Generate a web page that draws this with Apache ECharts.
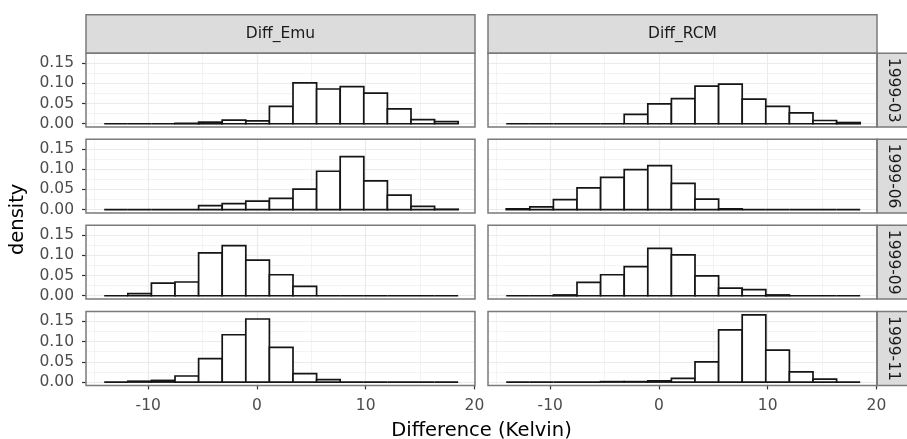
<!DOCTYPE html>
<html>
<head>
<meta charset="utf-8">
<script src="https://cdn.jsdelivr.net/npm/echarts@6/dist/echarts.min.js"></script>
<style>html,body{margin:0;padding:0;background:#fff}#c{width:907px;height:439px}</style>
</head>
<body>
<div id="c"></div>
<script>
// ---- data ----
var columns = ['Diff_Emu', 'Diff_RCM'];
var rows = ['1999-03', '1999-06', '1999-09', '1999-11'];
var binWidth = 2.17;
var binCenters = [-12.96, -10.79, -8.62, -6.45, -4.28, -2.11, 0.06, 2.23, 4.40, 6.57, 8.74, 10.91, 13.08, 15.25, 17.42];
var xTicks = [-10, 0, 10, 20];
var yTicks = [0, 0.05, 0.10, 0.15];
var emu03 = [0, 0, 0, 0.001, 0.004, 0.009, 0.007, 0.043, 0.101, 0.086, 0.092, 0.076, 0.037, 0.010, 0.005];
var emu06 = [0, 0, 0, 0, 0.010, 0.015, 0.021, 0.028, 0.051, 0.095, 0.131, 0.071, 0.036, 0.008, 0.001];
var emu09 = [0, 0.005, 0.031, 0.034, 0.106, 0.124, 0.088, 0.052, 0.023, 0, 0, 0, 0, 0, 0];
var emu11 = [0, 0.002, 0.004, 0.015, 0.058, 0.117, 0.156, 0.086, 0.021, 0.006, 0, 0, 0, 0, 0];
var rcm03 = [0, 0, 0, 0, 0, 0.023, 0.049, 0.062, 0.093, 0.098, 0.061, 0.043, 0.027, 0.008, 0.003];
var rcm06 = [0.002, 0.007, 0.025, 0.054, 0.080, 0.099, 0.109, 0.065, 0.026, 0.002, 0, 0, 0, 0, 0];
var rcm09 = [0, 0, 0.002, 0.033, 0.052, 0.072, 0.117, 0.101, 0.049, 0.019, 0.015, 0.002, 0, 0, 0];
var rcm11 = [0, 0, 0, 0, 0.001, 0.001, 0.003, 0.009, 0.050, 0.129, 0.166, 0.079, 0.025, 0.007, 0];
var panelData = [[emu03, rcm03], [emu06, rcm06], [emu09, rcm09], [emu11, rcm11]];

// ---- layout ----
var FONT = 'DejaVu Sans';
var colLeft = [86, 488];
var panelW = 389;
var rowTop = [53.3, 139.2, 225.3, 311.6];
var panelH = 73.8;
var xMin = -15.72, xMax = 20.05;
var yMin = -0.0083, yMax = 0.1743;

var grids = [], xAxes = [], yAxes = [], series = [], graphics = [];
for (var r = 0; r < rows.length; r++) {
  for (var c = 0; c < columns.length; c++) {
    var idx = grids.length;
    var bottomRow = r === rows.length - 1;
    var leftCol = c === 0;
    grids.push({left: colLeft[c], top: rowTop[r], width: panelW, height: panelH, show: false});
    xAxes.push({
      gridIndex: idx, type: 'value', min: xMin, max: xMax, position: 'bottom',
      minInterval: 10, maxInterval: 10, splitNumber: 4,
      axisLine: {show: false, onZero: false},
      axisTick: {show: bottomRow, length: 4, inside: false, customValues: xTicks, lineStyle: {color: '#333', width: 1.2}},
      axisLabel: {show: bottomRow, customValues: xTicks, color: '#4d4d4d', fontSize: 15.5, fontFamily: FONT, margin: 13,
        formatter: function (v) { return String(Math.round(v)); }},
      splitLine: {show: true, lineStyle: {color: '#ebebeb', width: 1.1}},
      minorTick: {show: false, splitNumber: 2},
      minorSplitLine: {show: true, lineStyle: {color: '#ebebeb', width: 0.6}}
    });
    yAxes.push({
      gridIndex: idx, type: 'value', min: yMin, max: yMax, position: 'left',
      minInterval: 0.05, maxInterval: 0.05, splitNumber: 3,
      axisLine: {show: false, onZero: false},
      axisTick: {show: leftCol, length: 4, inside: false, customValues: yTicks, lineStyle: {color: '#333', width: 1.2}},
      axisLabel: {show: leftCol, customValues: yTicks, color: '#4d4d4d', fontSize: 15.5, fontFamily: FONT, margin: 12,
        formatter: function (v) { return v.toFixed(2); }},
      splitLine: {show: true, lineStyle: {color: '#ebebeb', width: 1.1}},
      minorTick: {show: false, splitNumber: 2},
      minorSplitLine: {show: true, lineStyle: {color: '#ebebeb', width: 0.6}}
    });
    var vals = panelData[r][c];
    var d = [];
    for (var k = 0; k < binCenters.length; k++) d.push([binCenters[k], vals[k]]);
    series.push({
      type: 'custom', xAxisIndex: idx, yAxisIndex: idx, data: d, z: 3, silent: true,
      renderItem: function (params, api) {
        var x = api.value(0), h = api.value(1);
        var p0 = api.coord([x - binWidth / 2, 0]);
        var p1 = api.coord([x + binWidth / 2, h]);
        return {
          type: 'rect',
          shape: {x: p0[0], y: p1[1], width: p1[0] - p0[0], height: p0[1] - p1[1]},
          style: {fill: '#ffffff', stroke: '#151515', lineWidth: 1.7}
        };
      }
    });
    // panel border
    graphics.push({type: 'rect', z: 100, silent: true,
      shape: {x: colLeft[c], y: rowTop[r], width: panelW, height: panelH},
      style: {fill: 'none', stroke: '#7a7a7a', lineWidth: 1.5}});
  }
  // right strip
  graphics.push({type: 'rect', z: 90, silent: true,
    shape: {x: colLeft[1] + panelW, y: rowTop[r], width: 36, height: panelH},
    style: {fill: '#dcdcdc', stroke: '#7a7a7a', lineWidth: 1.5}});
  graphics.push({type: 'text', z: 95, silent: true,
    x: colLeft[1] + panelW + 16.5, y: rowTop[r] + panelH / 2, rotation: -Math.PI / 2,
    style: {text: rows[r], fontSize: 15.5, fontFamily: FONT, fill: '#1a1a1a', align: 'center', verticalAlign: 'middle'}});
}
// top strips
for (var c2 = 0; c2 < columns.length; c2++) {
  graphics.push({type: 'rect', z: 90, silent: true,
    shape: {x: colLeft[c2], y: 14.7, width: panelW, height: rowTop[0] - 14.7},
    style: {fill: '#dcdcdc', stroke: '#7a7a7a', lineWidth: 1.5}});
  graphics.push({type: 'text', z: 95, silent: true,
    x: colLeft[c2] + panelW / 2, y: 33.5,
    style: {text: columns[c2], fontSize: 15.5, fontFamily: FONT, fill: '#1a1a1a', align: 'center', verticalAlign: 'middle'}});
}
// axis titles
graphics.push({type: 'text', z: 95, silent: true, x: 17.5, y: (rowTop[0] + rowTop[3] + panelH) / 2, rotation: Math.PI / 2,
  style: {text: 'density', fontSize: 19.5, fontFamily: FONT, fill: '#000', align: 'center', verticalAlign: 'middle'}});
graphics.push({type: 'text', z: 95, silent: true, x: (colLeft[0] + colLeft[1] + panelW) / 2, y: 430.5,
  style: {text: 'Difference (Kelvin)', fontSize: 19.5, fontFamily: FONT, fill: '#000', align: 'center', verticalAlign: 'middle'}});

var chart = echarts.init(document.getElementById('c'), null, {renderer: 'canvas'});
chart.setOption({
  animation: false,
  backgroundColor: '#ffffff',
  grid: grids, xAxis: xAxes, yAxis: yAxes, series: series,
  graphic: {elements: graphics}
});
</script>
</body>
</html>
